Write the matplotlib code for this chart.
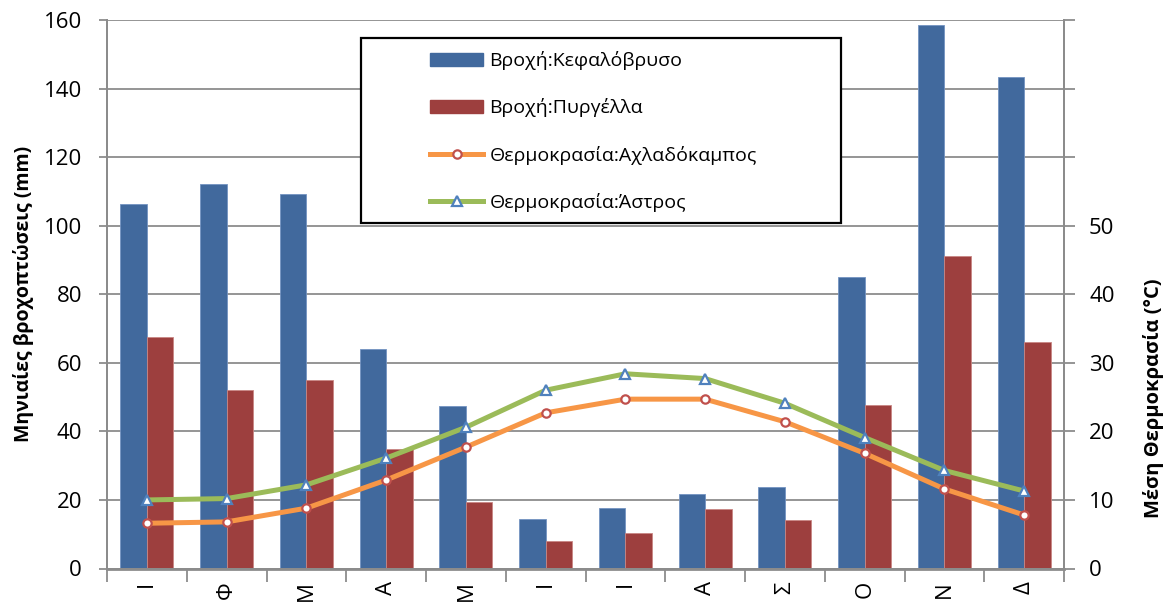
import matplotlib
matplotlib.use('Agg')
import matplotlib.pyplot as plt
import matplotlib.patches as mpatches
from matplotlib.lines import Line2D
import numpy as np

plt.rcParams['font.family'] = ['Open Sans', 'DejaVu Sans']

# monthly data
months = ['Ι', 'Φ', 'Μ', 'Α', 'Μ', 'Ι', 'Ι', 'Α', 'Σ', 'Ο', 'Ν', 'Δ']
rain_kefalovryso = [106.4, 112.2, 109.3, 64.1, 47.4, 14.3, 17.7, 21.8, 23.8, 84.9, 158.6, 143.3]
rain_pyrgella = [67.5, 52.1, 54.9, 34.8, 19.5, 8.1, 10.4, 17.3, 14.1, 47.8, 91.2, 66.1]
temp_achladokampos = [6.6, 6.8, 8.8, 12.9, 17.7, 22.7, 24.7, 24.7, 21.4, 16.8, 11.6, 7.8]
temp_astros = [10.0, 10.2, 12.2, 16.1, 20.6, 26.0, 28.4, 27.7, 24.1, 19.1, 14.3, 11.3]

names = ['Βροχή:Κεφαλόβρυσο', 'Βροχή:Πυργέλλα',
         'Θερμοκρασία:Αχλαδόκαμπος', 'Θερμοκρασία:Άστρος']

blue = '#41699d'
red = '#9d3f3e'
orange = '#f79646'
green = '#9bbb59'
grid_c = '#8c8c8c'

fig = plt.figure(figsize=(11.69, 6.05), dpi=100)
ax = fig.add_axes([107 / 1169, 1 - 568.5 / 605, 957 / 1169, 548.5 / 605])
ax2 = ax.twinx()

x = np.arange(len(months))
w = 1 / 3
ax.bar(x - w / 2, rain_kefalovryso, w, color=blue, edgecolor='#7393c2', linewidth=0.6, zorder=2)
ax.bar(x + w / 2, rain_pyrgella, w, color=red, edgecolor='#c98784', linewidth=0.6, zorder=2)

ax2.plot(x, temp_achladokampos, color=orange, lw=3.6, marker='o', ms=6,
         mfc='white', mec='#c0504d', mew=1.6, solid_capstyle='round')
ax2.plot(x, temp_astros, color=green, lw=3.6, marker='^', ms=7,
         mfc='white', mec='#4f81bd', mew=1.6, solid_capstyle='round')

ax.set_xlim(-0.5, 11.5)
ax.set_ylim(0, 160)
ax2.set_ylim(0, 80)

ax.set_yticks(np.arange(0, 161, 20))
ax.yaxis.grid(True, color=grid_c, lw=1.3)
ax.set_axisbelow(True)

ax2.set_yticks(np.arange(0, 81, 10))
ax2.set_yticklabels([str(v) if v <= 50 else '' for v in range(0, 81, 10)])

# category boundaries get the tick marks, month letters sit in between
ax.set_xticks(np.arange(13) - 0.5)
ax.set_xticklabels([])
ax.set_xticks(x, minor=True)
ax.set_xticklabels(months, minor=True, rotation=90, fontsize=16)
ax.tick_params(axis='x', which='minor', length=0, pad=9)
ax.tick_params(axis='x', which='major', length=9, width=1.3, color=grid_c)
ax.tick_params(axis='y', length=6, width=1.3, color=grid_c, labelsize=16, pad=12)
ax2.tick_params(axis='y', length=8, width=1.3, color=grid_c, labelsize=16, pad=10)

for a in (ax, ax2):
    a.spines['top'].set_visible(False)
    for s in ('left', 'right', 'bottom'):
        a.spines[s].set_color(grid_c)
        a.spines[s].set_linewidth(1.4)
ax.spines['bottom'].set_linewidth(2)

ax.set_ylabel('Μηνιαίες βροχοπτώσεις (mm)', fontsize=14, fontweight='bold')
ax.yaxis.set_label_coords(-0.076, 0.5)
ax2.set_ylabel('Μέση Θερμοκρασία (°C)', fontsize=14.5, fontweight='bold', rotation=90)
ax2.yaxis.set_label_coords(1.0825, 0.31)

# legend: white box with black frame, entries drawn on top
box = mpatches.Rectangle((361 / 1169, 1 - 223 / 605), 480 / 1169, 185 / 605,
                         transform=fig.transFigure, facecolor='white',
                         edgecolor='black', linewidth=1.6, zorder=5)
fig.add_artist(box)

handles = [
    mpatches.Patch(color=blue),
    mpatches.Patch(color=red),
    Line2D([], [], color=orange, lw=3.6, marker='o', ms=6, mfc='white', mec='#c0504d', mew=1.6),
    Line2D([], [], color=green, lw=3.6, marker='^', ms=7, mfc='white', mec='#4f81bd', mew=1.6),
]
leg = fig.legend(handles, names, loc='center left', bbox_to_anchor=(430 / 1169, 1 - 131.5 / 605),
                 frameon=False, fontsize=14, handlelength=2.75, handleheight=0.65,
                 handletextpad=0.3, labelspacing=1.45, borderpad=0, borderaxespad=0)
leg.set_zorder(6)

fig.savefig('out.png', dpi=100)
